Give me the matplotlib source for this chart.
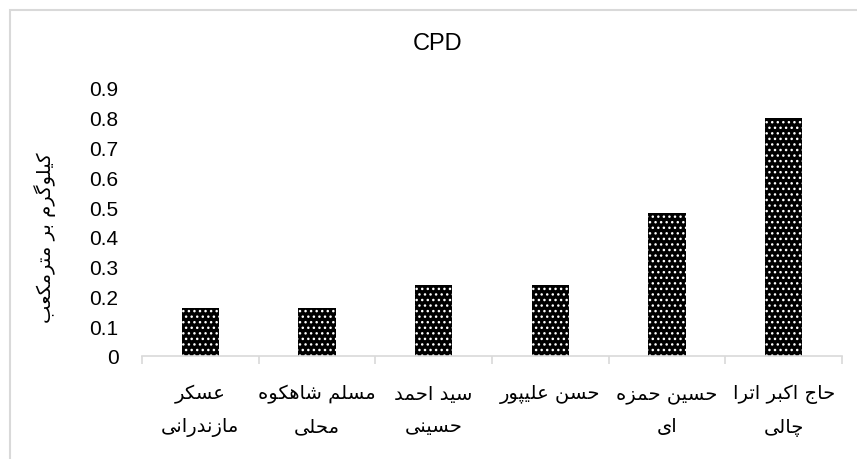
import matplotlib
matplotlib.use("Agg")
import matplotlib.pyplot as plt
from matplotlib.patches import Rectangle

# ---------------- data ----------------
title = "CPD"
ylabel = "کیلوگرم بر مترمکعب"
categories = [
    "عسکر\nمازندرانی",
    "مسلم شاهکوه\nمحلی",
    "سید احمد\nحسینی",
    "حسن علیپور",
    "حسین حمزه\nای",
    "حاج اکبر اترا\nچالی",
]
values = [0.16, 0.16, 0.24, 0.24, 0.48, 0.80]
yticks = [0, 0.1, 0.2, 0.3, 0.4, 0.5, 0.6, 0.7, 0.8, 0.9]
ytick_labels = ["0", "0.1", "0.2", "0.3", "0.4", "0.5", "0.6", "0.7", "0.8", "0.9"]

# ------------- minimal Persian shaping -------------
# forms: (isolated, final, initial, medial); right-joining letters have only 2
FORMS = {
    "ا": (0xFE8D, 0xFE8E), "د": (0xFEA9, 0xFEAA), "ر": (0xFEAD, 0xFEAE),
    "ز": (0xFEAF, 0xFEB0), "و": (0xFEED, 0xFEEE),
    "ب": (0xFE8F, 0xFE90, 0xFE91, 0xFE92), "ت": (0xFE95, 0xFE96, 0xFE97, 0xFE98),
    "ج": (0xFE9D, 0xFE9E, 0xFE9F, 0xFEA0), "ح": (0xFEA1, 0xFEA2, 0xFEA3, 0xFEA4),
    "س": (0xFEB1, 0xFEB2, 0xFEB3, 0xFEB4), "ش": (0xFEB5, 0xFEB6, 0xFEB7, 0xFEB8),
    "ع": (0xFEC9, 0xFECA, 0xFECB, 0xFECC), "ل": (0xFEDD, 0xFEDE, 0xFEDF, 0xFEE0),
    "م": (0xFEE1, 0xFEE2, 0xFEE3, 0xFEE4), "ن": (0xFEE5, 0xFEE6, 0xFEE7, 0xFEE8),
    "ه": (0xFEE9, 0xFEEA, 0xFEEB, 0xFEEC),
    "ک": (0xFB8E, 0xFB8F, 0xFB90, 0xFB91), "گ": (0xFB92, 0xFB93, 0xFB94, 0xFB95),
    "ی": (0xFBFC, 0xFBFD, 0xFBFE, 0xFBFF), "پ": (0xFB56, 0xFB57, 0xFB58, 0xFB59),
    "چ": (0xFB7A, 0xFB7B, 0xFB7C, 0xFB7D),
}


def shape_line(s):
    out = []
    n = len(s)
    for i, ch in enumerate(s):
        f = FORMS.get(ch)
        if f is None:
            out.append(ch)
            continue
        prev = s[i - 1] if i > 0 else None
        nxt = s[i + 1] if i < n - 1 else None
        jp = prev is not None and prev in FORMS and len(FORMS[prev]) == 4
        jn = len(f) == 4 and nxt is not None and nxt in FORMS
        if jp and jn:
            code = f[3]
        elif jp:
            code = f[1]
        elif jn:
            code = f[2]
        else:
            code = f[0]
        out.append(chr(code))
    return "".join(out)[::-1]


def shape(s):
    return "\n".join(shape_line(l) for l in s.split("\n"))


# ------------- figure -------------
W, H = 857, 460
fig = plt.figure(figsize=(W / 100, H / 100), dpi=100)
plt.rcParams["font.family"] = ["Liberation Sans", "DejaVu Sans"]

ax = fig.add_axes([142 / W, 1 - 357 / H, 700 / W, 268 / H])
x = list(range(len(categories)))
ax.bar(x, values, width=0.32, color="black", edgecolor="white",
       linewidth=0, hatch="...", zorder=2)

ax.set_xlim(-0.5, len(categories) - 0.5)
ax.set_ylim(0, 0.9)
ax.set_yticks(yticks)
ax.set_yticklabels(ytick_labels, fontsize=15)
ax.tick_params(axis="y", length=0, pad=17)

ax.set_xticks(x)
ax.set_xticklabels([shape(c) for c in categories], fontsize=14,
                   family=["DejaVu Sans"], linespacing=1.9, va="top")
ax.tick_params(axis="x", which="major", length=0, pad=20)
ax.set_xticks([i - 0.5 for i in range(len(categories) + 1)], minor=True)
ax.tick_params(axis="x", which="minor", length=6, width=1.2, color="#d9d9d9")

for side in ["top", "right", "left"]:
    ax.spines[side].set_visible(False)
ax.spines["bottom"].set_color("#d9d9d9")
ax.spines["bottom"].set_linewidth(1.2)

fig.text(438 / W, 1 - 44 / H, title, ha="center", va="center", fontsize=17)
fig.text(45 / W, 1 - 238 / H, shape(ylabel), rotation=90, ha="center",
         va="center", fontsize=14, family=["DejaVu Sans"])

fig.add_artist(Rectangle((10 / W, -0.1), 1.5, (1 - 11 / H) + 0.1,
                         transform=fig.transFigure, fill=False,
                         edgecolor="#d9d9d9", linewidth=1.5))

fig.savefig("out.png", dpi=100)
